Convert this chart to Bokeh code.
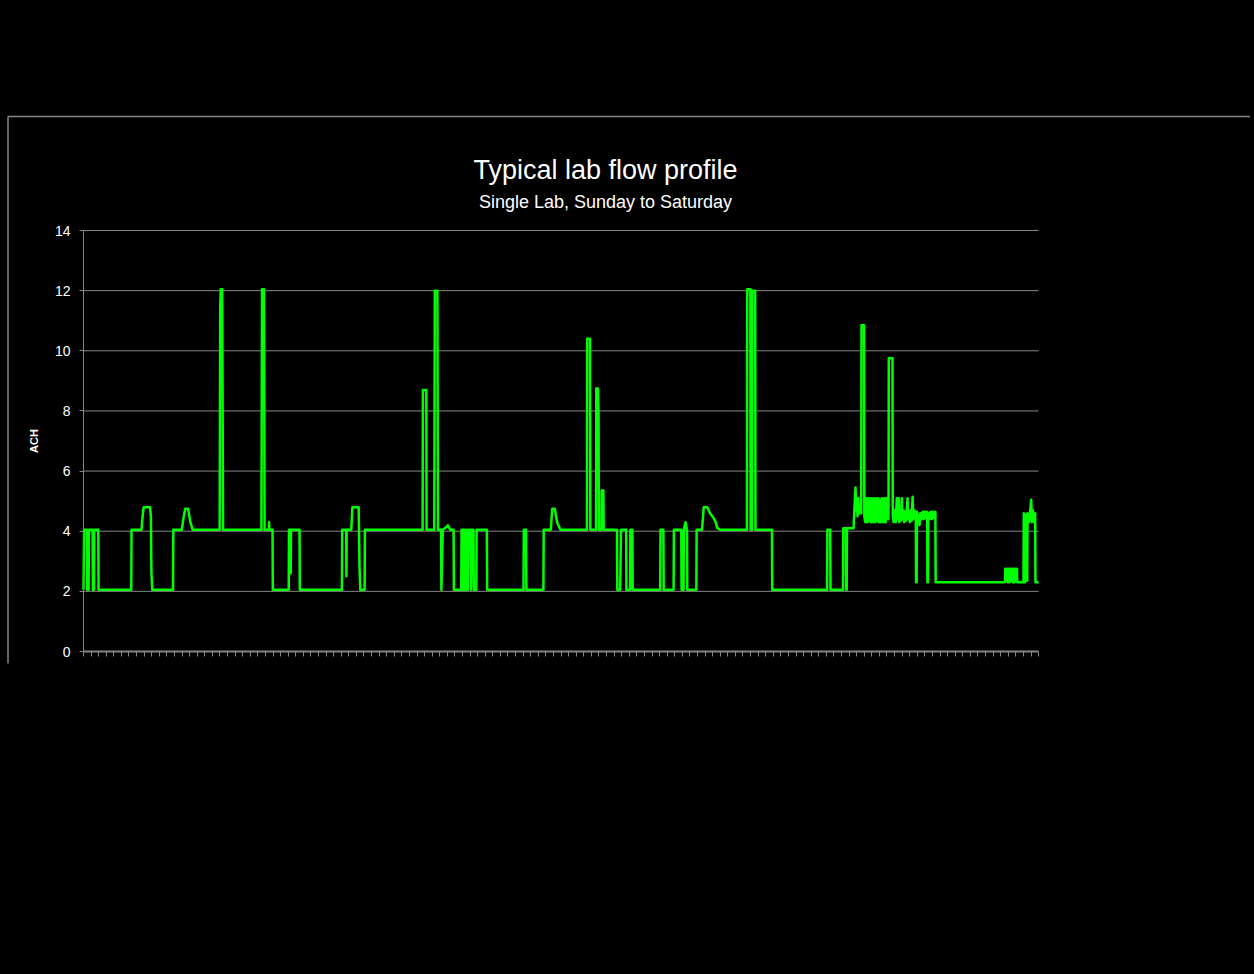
from bokeh.plotting import figure
from bokeh.models import Label, FixedTicker, Range1d
from bokeh.embed import file_html
from bokeh.resources import INLINE

TITLE = "Typical lab flow profile"
SUBTITLE = "Single Lab, Sunday to Saturday"
Y_LABEL = "ACH"
Y_TICKS = [0, 2, 4, 6, 8, 10, 12, 14]
WEEK_HOURS = 168

# time in hours since Sunday 00:00
hours = [
    0.0, 0.1, 0.6, 0.65, 0.9, 0.95, 1.6, 1.65, 1.85, 1.9, 2.6, 2.65, 8.4, 8.45, 10.2, 10.45, 10.6, 11.7, 11.85, 11.95,
    12.1, 15.75, 15.8, 17.3, 17.6, 17.9, 18.4, 18.8, 19.2, 23.95, 24.05, 24.15, 24.4, 24.55, 31.3, 31.4, 31.75, 31.85,
    32.6, 32.65, 32.7, 33.25, 33.3, 36.1, 36.15, 36.4, 36.45, 36.5, 38.0, 38.05,
    45.45, 45.5, 46.2, 46.25, 46.3, 47.1, 47.3, 48.4, 48.55, 48.7, 49.45, 49.5, 59.65, 59.7, 60.3, 60.35, 61.7, 61.8,
    62.25, 62.35, 62.9, 62.95, 63.2, 63.9, 64.1, 64.5, 65.1, 65.15, 66.45, 66.5, 66.7, 66.75, 66.85, 67.0, 67.1, 67.3,
    67.4, 67.6, 67.7, 68.1, 68.15, 68.3, 68.6, 68.65, 69.1, 69.15, 70.95, 71.0, 77.4, 77.45, 77.85, 77.9, 80.9, 80.95,
    82.2, 82.45, 82.9, 83.3, 83.9,
    88.55, 88.6, 89.1, 89.15, 90.15, 90.2, 90.5, 90.6, 90.65, 91.1, 91.15, 91.45, 91.5, 93.85, 93.9, 94.4, 94.55, 95.45,
    95.5, 96.15, 96.2, 96.55, 96.6, 101.45, 101.5, 102.0, 102.05, 103.8, 103.85, 105.15, 105.2, 105.55, 105.6, 105.9,
    106.15, 106.2, 107.8, 107.85, 108.8, 109.1, 109.7, 110.2, 110.8, 111.2, 111.5, 112.0,
    116.7, 116.75, 117.3, 117.35, 117.6, 117.65, 118.15, 118.2, 121.1, 121.15, 130.8, 130.85, 131.35, 131.4, 133.6,
    133.65, 134.1, 134.15, 134.25, 134.3, 135.45, 135.6, 135.8, 135.9, 136.0, 136.15, 136.3, 136.45, 136.8, 136.85,
    137.3, 137.35, 137.5, 137.6, 137.7, 137.8, 137.9, 138.0, 138.1, 138.2, 138.3, 138.4, 138.5, 138.6, 138.7, 138.8,
    138.9, 139.0, 139.1, 139.2, 139.3, 139.4, 139.5, 139.6, 139.7, 139.8, 139.9, 140.0, 140.1, 140.2, 140.3, 140.4,
    140.5, 140.6, 140.7, 140.8, 140.9, 141.0, 141.1, 141.2, 141.3, 141.45, 141.6, 141.65, 142.3, 142.35, 142.5, 142.6,
    142.7, 142.8, 142.9, 143.05, 143.15, 143.3, 143.4, 143.5, 143.65, 143.8, 143.95, 144.05, 144.2, 144.35, 144.5,
    144.65, 144.8, 144.95, 145.05, 145.2, 145.35, 145.5, 145.65, 145.85, 145.95, 146.1, 146.3, 146.4, 146.45, 146.55,
    146.6, 146.9, 147.05, 147.2, 147.4, 147.6, 147.8, 148.0, 148.2, 148.4, 148.45, 148.55, 148.6, 148.8, 149.0, 149.2,
    149.4, 149.6, 149.85, 149.9, 162.1, 162.15, 162.3, 162.45, 162.6, 162.75, 162.9, 163.05, 163.2, 163.35, 163.5,
    163.65, 163.8, 163.95, 164.1, 164.2, 164.25, 165.35, 165.4, 165.55, 165.6, 165.7, 165.9, 166.0, 166.05, 166.3,
    166.5, 166.7, 166.8, 167.0, 167.2, 167.4, 167.45, 168.0,
]

ach = [
    2.05, 4.05, 4.05, 2.05, 2.05, 4.05, 4.05, 2.05, 2.05, 4.05, 4.05, 2.05, 2.05, 4.05, 4.05, 4.6, 4.8, 4.8, 4.5, 2.6,
    2.05, 2.05, 4.05, 4.05, 4.45, 4.75, 4.75, 4.3, 4.05, 4.05, 11.5, 12.05, 12.05, 4.05, 4.05, 12.05, 12.05, 4.05,
    4.05, 4.3, 4.05, 4.05, 2.05, 2.05, 4.05, 4.05, 2.6, 4.05, 4.05, 2.05,
    2.05, 4.05, 4.05, 2.5, 4.05, 4.05, 4.8, 4.8, 2.8, 2.05, 2.05, 4.05, 4.05, 8.7, 8.7, 4.05, 4.05, 12.0,
    12.0, 4.05, 4.05, 2.05, 4.05, 4.15, 4.2, 4.05, 4.05, 2.05, 2.05, 4.05, 4.05, 2.05, 4.05, 2.05, 4.05, 2.05,
    4.05, 2.05, 4.05, 4.05, 2.05, 4.05, 4.05, 2.05, 2.05, 4.05, 4.05, 2.05, 2.05, 4.05, 4.05, 2.05, 2.05, 4.05,
    4.05, 4.75, 4.75, 4.3, 4.05,
    4.05, 10.4, 10.4, 4.05, 4.05, 8.75, 8.75, 7.9, 4.05, 4.05, 5.35, 5.35, 4.05, 4.05, 2.05, 2.05, 4.05, 4.05,
    2.05, 2.05, 4.05, 4.05, 2.05, 2.05, 4.05, 4.05, 2.05, 2.05, 4.05, 4.05, 2.05, 2.05, 4.05, 4.3,
    4.05, 2.05, 2.05, 4.05, 4.05, 4.8, 4.8, 4.6, 4.45, 4.3, 4.1, 4.05,
    4.05, 12.05, 12.05, 4.05, 4.05, 12.0, 12.0, 4.05, 4.05, 2.05, 2.05, 4.05, 4.05, 2.05, 2.05,
    4.1, 4.1, 2.05, 2.05, 4.1, 4.1, 4.7, 5.45, 4.7, 5.1, 4.5, 5.1, 4.6, 4.6, 10.85,
    10.85, 4.5, 4.3, 5.0, 4.4, 5.1, 4.3, 4.9, 4.35, 5.1, 4.4, 4.8, 4.3, 5.1, 4.45, 5.0,
    4.3, 5.1, 4.4, 4.9, 4.3, 5.1, 4.4, 5.0, 4.35, 5.1, 4.3, 5.05, 4.4, 4.9, 4.3, 5.1,
    4.45, 4.8, 4.3, 5.1, 4.4, 5.0, 4.3, 5.1, 4.4, 4.9, 4.4, 9.75, 9.75, 4.5, 4.3, 4.7,
    4.35, 4.65, 4.3, 5.1, 4.4, 4.65, 5.1, 4.3, 4.7, 4.35, 5.1, 4.4, 4.7, 4.3, 4.65,
    4.35, 4.7, 5.1, 4.4, 4.65, 4.3, 4.7, 4.35, 5.15, 4.4, 4.7, 4.6, 4.6, 2.3, 2.3,
    4.65, 4.4, 4.2, 4.6, 4.4, 4.65, 4.4, 4.65, 4.45, 4.65, 2.3, 2.3, 4.6, 4.4, 4.65, 4.4,
    4.65, 4.45, 4.65, 2.3, 2.3, 2.75, 2.35, 2.75, 2.3, 2.75, 2.3, 2.75, 2.35, 2.75, 2.3,
    2.75, 2.3, 2.75, 2.35, 2.75, 2.3, 2.3, 4.6, 4.2, 2.3, 4.55, 4.3, 2.35, 4.6, 4.3,
    4.6, 5.05, 4.3, 4.7, 4.3, 4.6, 2.3, 2.3,
]

GRID = "#868686"
FONT = "Liberation Sans"

# pixel geometry of the reference frame (x: 83..1038 px, y: 651..230 px)
PX_PER_H = 5.685
PX_PER_Y = 421 / 14.0
W, H = 1250, 970
X0_PX, Y0_PX = 83, 651

def xd(px):
    return (px - X0_PX) / PX_PER_H

def yd(py):
    return (Y0_PX - py) / PX_PER_Y

p = figure(width=W, height=H, output_backend="svg", toolbar_location=None,
           x_range=Range1d(xd(0), xd(W)), y_range=Range1d(yd(H), yd(0)),
           min_border=0, background_fill_color="black", border_fill_color="black",
           outline_line_color=None)

# horizontal gridlines spanning the plotted week only
grid_y = Y_TICKS[1:]
p.segment(x0=[0] * len(grid_y), x1=[WEEK_HOURS] * len(grid_y), y0=grid_y, y1=grid_y,
          line_color=GRID, line_width=1)

p.line(hours, ach, line_color="#00ff00", line_width=2.5, line_join="round")

p.xgrid.visible = False
p.ygrid.visible = False

p.yaxis.fixed_location = 0
p.yaxis.bounds = (Y_TICKS[0], Y_TICKS[-1])
p.yaxis.ticker = Y_TICKS
p.yaxis.axis_line_color = GRID
p.yaxis.major_tick_line_color = GRID
p.yaxis.major_tick_out = 4
p.yaxis.major_tick_in = 0
p.yaxis.minor_tick_line_color = None
p.yaxis.major_label_text_color = "white"
p.yaxis.major_label_text_font = FONT
p.yaxis.major_label_text_font_size = "14px"
p.yaxis.major_label_standoff = 9
p.yaxis.axis_label = Y_LABEL
p.yaxis.axis_label_text_color = "white"
p.yaxis.axis_label_text_font = FONT
p.yaxis.axis_label_text_font_style = "bold"
p.yaxis.axis_label_text_font_size = "11px"
p.yaxis.axis_label_standoff = 12

p.xaxis.fixed_location = 0
p.xaxis.bounds = (0, WEEK_HOURS)
p.xaxis.ticker = FixedTicker(ticks=[i * WEEK_HOURS / 126 for i in range(127)])
p.xaxis.axis_line_color = GRID
p.xaxis.axis_line_width = 2
p.xaxis.major_tick_line_color = GRID
p.xaxis.major_tick_out = 5
p.xaxis.major_tick_in = 0
p.xaxis.minor_tick_line_color = None
p.xaxis.major_label_text_font_size = "0px"
p.xaxis.major_label_text_alpha = 0

p.add_layout(Label(x=xd(605), y=yd(169), text=TITLE, text_align="center", text_baseline="alphabetic",
                   text_color="white", text_font=FONT, text_font_size="27px"))
p.add_layout(Label(x=xd(605), y=yd(201.5), text=SUBTITLE, text_align="center", text_baseline="alphabetic",
                   text_color="white", text_font=FONT, text_font_size="18px"))

# chart-area border (top and left edges)
p.segment(x0=[xd(7.5), xd(7.5)], y0=[yd(116), yd(116)], x1=[xd(7.5), xd(W)], y1=[yd(663), yd(116)],
          line_color=GRID, line_width=1.5)

html = file_html(p, INLINE)
html = html.replace("<head>", "<head><style>html,body{background:#000;}</style>", 1)
open("out.html", "w").write(html)
